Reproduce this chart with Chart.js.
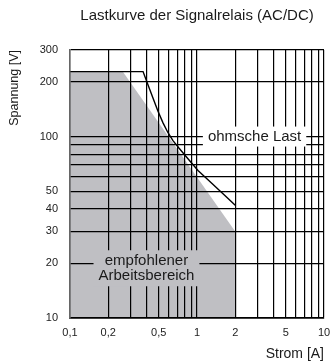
<!DOCTYPE html>
<html>
<head>
<meta charset="utf-8">
<script src="https://cdn.jsdelivr.net/npm/chart.js@4/dist/chart.umd.min.js"></script>
<style>
  html, body { margin: 0; padding: 0; background: #ffffff; }
  #wrap { width: 332px; height: 364px; }
</style>
</head>
<body>
<div id="wrap"><canvas id="c" width="332" height="364"></canvas></div>
<script>
// ---- data ----
const titleText = 'Lastkurve der Signalrelais (AC/DC)';
const xTitle = 'Strom [A]';
const yTitle = 'Spannung [V]';
const xGrid = [0.1,0.2,0.3,0.4,0.5,0.6,0.7,0.8,0.9,1,2,3,4,5,6,7,8,9,10];
const yGrid = [10,20,30,40,50,60,70,80,90,100,200,300];
const xTickLabels = [0.1,0.2,0.5,1,2,5,10];
const yTickLabels = [10,20,30,40,50,100,200,300];
// load curve "ohmsche Last" (current A, voltage V)
const curveX = [0.1, 0.376, 0.411, 0.45, 0.493, 0.54, 0.591, 0.647, 0.72, 0.849, 1.018, 1.3, 1.65, 2.0];
const curveY = [228, 228, 193, 163, 138, 119, 105, 95, 86.5, 75.4, 65, 55.5, 47.5, 41.8];
// recommended working area boundary
const areaX = [0.1, 0.26, 2.0, 2.0];
const areaY = [228, 228, 30, 10];
// annotations: text, anchor (x value, y value)
const noteLoad = { lines: ['ohmsche Last'], x: 2.84, y: 100 };
const noteArea = { lines: ['empfohlener', 'Arbeitsbereich'], x: 0.4, y: 18.8 };

const FONT = "'Liberation Sans', Arial, Helvetica, sans-serif";
const toPts = (xs, ys) => xs.map((x, i) => ({ x: x, y: ys[i] }));
const fmt = v => String(v).replace('.', ',');

const notesPlugin = {
  id: 'notes',
  afterDraw(chart) {
    const ctx = chart.ctx;
    const xs = chart.scales.x, ys = chart.scales.y;
    const draw = (note, bg, size, lh, padX, padY) => {
      ctx.save();
      ctx.font = size + 'px ' + FONT;
      const w = Math.max(...note.lines.map(l => ctx.measureText(l).width));
      const h = lh * note.lines.length;
      const cx = xs.getPixelForValue(note.x);
      const cy = ys.getPixelForValue(note.y);
      ctx.fillStyle = bg;
      ctx.fillRect(cx - w / 2 - padX, cy - h / 2 - padY, w + 2 * padX, h + 2 * padY);
      ctx.fillStyle = '#1a1a1a';
      ctx.textAlign = 'center';
      ctx.textBaseline = 'middle';
      note.lines.forEach((l, i) => {
        ctx.fillText(l, cx, cy - h / 2 + lh * (i + 0.5));
      });
      ctx.restore();
    };
    draw(noteLoad, '#ffffff', 15, 16, 5, 2);
    draw(noteArea, '#bfbfc3', 15, 15, 5, 3);
  }
};

new Chart(document.getElementById('c'), {
  type: 'scatter',
  data: {
    datasets: [
      {
        data: toPts(areaX, areaY),
        showLine: true,
        borderWidth: 0,
        borderColor: 'rgba(0,0,0,0)',
        backgroundColor: '#bfbfc3',
        fill: 'start',
        pointRadius: 0,
        tension: 0,
        order: 2
      },
      {
        data: toPts(curveX, curveY),
        showLine: true,
        borderColor: '#000000',
        borderWidth: 1.4,
        fill: false,
        pointRadius: 0,
        tension: 0,
        order: 1
      }
    ]
  },
  options: {
    responsive: false,
    animation: false,
    devicePixelRatio: 1,
    layout: { padding: { left: 0, right: 8, top: 0, bottom: 0 } },
    plugins: {
      legend: { display: false },
      tooltip: { enabled: false },
      title: {
        display: true,
        text: titleText,
        fullSize: false,
        color: '#1a1a1a',
        font: { family: FONT, size: 15, weight: 'normal' },
        padding: { top: 7, bottom: 25 }
      }
    },
    scales: {
      x: {
        type: 'logarithmic',
        min: 0.1,
        max: 10,
        afterBuildTicks: s => { s.ticks = xGrid.map(v => ({ value: v })); },
        afterFit: s => { s.height = 46; s.paddingLeft = 0; s.paddingRight = 0; },
        ticks: {
          autoSkip: false,
          maxRotation: 0,
          padding: 8,
          color: '#222',
          font: { family: FONT, size: 11 },
          callback: v => xTickLabels.includes(v) ? fmt(v) : ''
        },
        grid: { color: '#000', lineWidth: 1.2, drawTicks: false, z: 1 },
        border: { display: true, color: '#555', width: 2, z: 1 },
        title: {
          display: true,
          text: xTitle,
          align: 'end',
          color: '#1a1a1a',
          font: { family: FONT, size: 14 },
          padding: { top: 0, bottom: 1 }
        }
      },
      y: {
        type: 'logarithmic',
        min: 10,
        max: 300,
        afterBuildTicks: s => { s.ticks = yGrid.map(v => ({ value: v })); },
        afterFit: s => { s.width = 70; },
        ticks: {
          autoSkip: false,
          padding: 12,
          color: '#222',
          font: { family: FONT, size: 11 },
          callback: v => yTickLabels.includes(v) ? fmt(v) : ''
        },
        grid: { color: '#000', lineWidth: 1.2, drawTicks: false, z: 1 },
        border: { display: true, color: '#666', width: 1.5, z: 1 },
        title: {
          display: true,
          text: yTitle,
          align: 'end',
          color: '#1a1a1a',
          font: { family: FONT, size: 12.5 },
          padding: { top: 7, bottom: 0 }
        }
      }
    }
  },
  plugins: [notesPlugin]
});
</script>
</body>
</html>
